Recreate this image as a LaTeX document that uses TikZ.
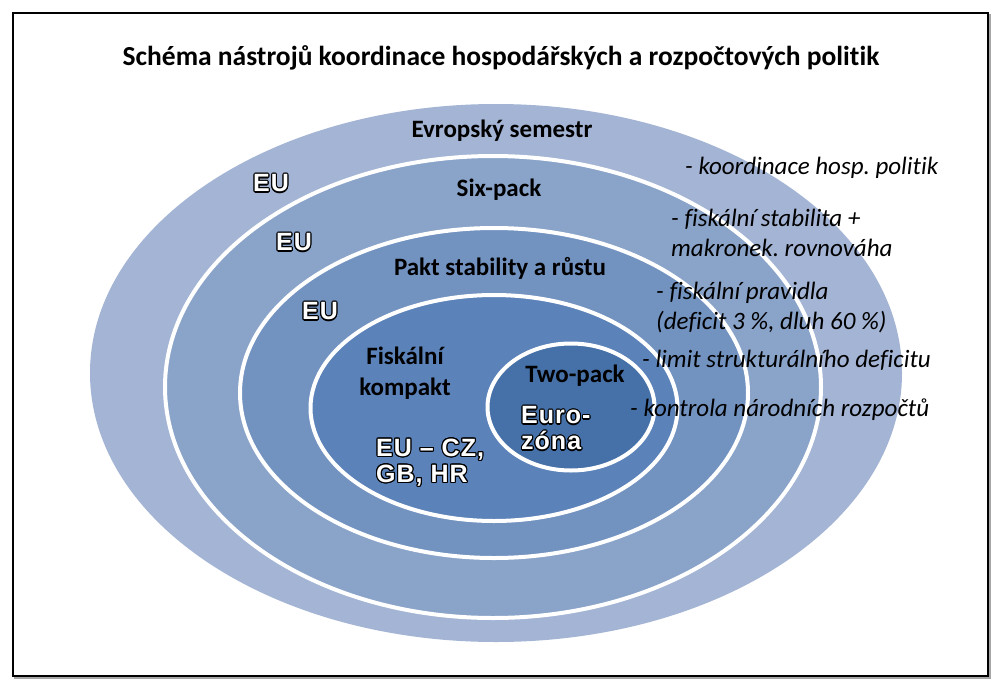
\documentclass[tikz,border=0pt]{standalone}
\usepackage{fontspec}
\setmainfont{Carlito}[Ligatures=NoCommon]
\newfontfamily\arialfont{Liberation Sans}[LetterSpace=4]
\usepackage{contour}
\contourlength{1.1pt}
\usetikzlibrary{positioning,shapes}
\frenchspacing
\definecolor{semCol}{RGB}{163,180,212}
\definecolor{sixCol}{RGB}{138,163,201}
\definecolor{paktCol}{RGB}{114,146,192}
\definecolor{fkCol}{RGB}{91,130,185}
\definecolor{twoCol}{RGB}{70,113,168}
\tikzstyle{ring}=[ellipse,draw=white,line width=4pt,inner sep=0pt]
\tikzstyle{head}=[font=\bfseries\fontsize{25}{31}\selectfont,align=center]
\tikzstyle{note}=[font=\itshape\fontsize{25}{30}\selectfont,anchor=west,align=left,inner sep=0pt]
\tikzstyle{eu}=[font=\arialfont\bfseries\fontsize{25}{26}\selectfont,text=white,align=left,anchor=west,inner sep=0pt]
\newcommand{\newRing}[6]{\node[ring,fill=#5,minimum width=#3,minimum height=#4,#6](#1) at #2 {};}
\newcommand{\newLabel}[4]{\node[#3](#1) at #4 {#2};}
\newcommand{\outl}[1]{\contour{black}{#1}}

\begin{document}
\begin{tikzpicture}[x=1pt,y=-1pt]
  \useasboundingbox (0,0) rectangle (1001,688);
  % frame
  \draw[gray!70,line width=2pt] (15,15) rectangle (990,678);
  \draw[fill=white,line width=1.5pt] (13,13) rectangle (988,676);
  \node[font=\bfseries\fontsize{27.5}{30}\selectfont](title) at (501,58)
    {Schéma nástrojů koordinace hospodářských a rozpočtových politik};
  % rings
  \newRing{sem}{(496,373)}{812}{538}{semCol}{draw=none}
  \newRing{six}{(493,387)}{656}{462}{sixCol}{}
  \newRing{pakt}{(494,393)}{508}{330}{paktCol}{}
  \newRing{fk}{(494,408)}{367}{226}{fkCol}{}
  \newRing{two}{(571,407)}{167}{127}{twoCol}{}
  % headings
  \newLabel{semL}{Evropský semestr}{head}{(502,131)}
  \newLabel{sixL}{Six-pack}{head}{(499,190)}
  \newLabel{paktL}{Pakt stability a růstu}{head}{(500,268)}
  \newLabel{fkL}{Fiskální\\kompakt}{head}{(405,373)}
  \newLabel{twoL}{Two-pack}{head}{(575,376)}
  % members
  \newLabel{eu1}{\outl{EU}}{eu}{(253,184)}
  \newLabel{eu2}{\outl{EU}}{eu}{(276,243)}
  \newLabel{eu3}{\outl{EU}}{eu}{(302,312)}
  \newLabel{euFk}{\outl{EU – CZ,}\\\outl{GB, HR}}{eu}{(376,463)}
  \newLabel{euro}{\outl{Euro-}\\\outl{zóna}}{eu}{(521,429)}
  % notes
  \newLabel{n1}{- koordinace hosp. politik}{note}{(685,168)}
  \newLabel{n2}{- fiskální stabilita +\\makronek. rovnováha}{note}{(671,233)}
  \newLabel{n3}{- fiskální pravidla\\(deficit 3 \%, dluh 60 \%)}{note}{(656,308)}
  \newLabel{n4}{- limit strukturálního deficitu}{note}{(642,360)}
  \newLabel{n5}{- kontrola národních rozpočtů}{note}{(630,410)}
\end{tikzpicture}
\end{document}
